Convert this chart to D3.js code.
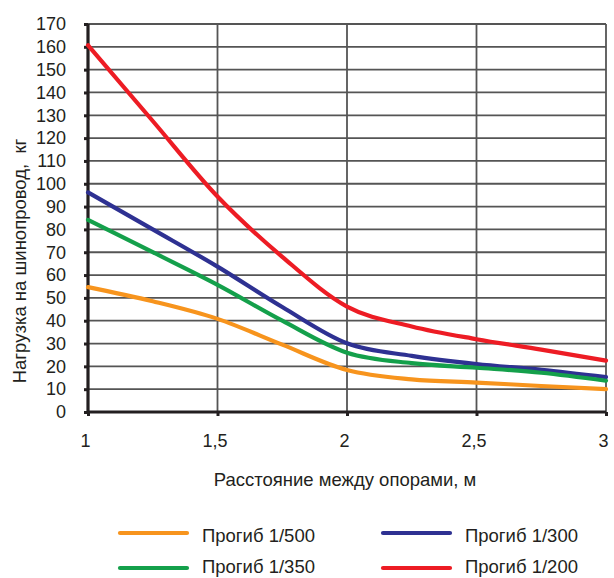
<!DOCTYPE html>
<html><head><meta charset="utf-8">
<script src="https://cdn.jsdelivr.net/npm/d3@7"></script>
<style>
html,body{margin:0;padding:0;background:#fff;}
svg{display:block;font-family:"Liberation Sans",Arial,sans-serif;}
</style></head>
<body><svg id="c" width="614" height="578"></svg>
<script>
const distances = [1, 1.25, 1.5, 1.75, 2, 2.25, 2.5, 2.75, 3];
const defl500 = [54.7, 48.5, 40.8, 29.5, 18.4, 14.3, 12.9, 11.4, 10];
const defl350 = [84.2, 70, 55.7, 40, 26, 21.4, 19.4, 17.2, 13.7];
const defl300 = [96.2, 80, 63.7, 46, 30.1, 24.6, 21, 18.5, 15.3];
const defl200 = [160.7, 127.5, 94.4, 68, 46.2, 37.5, 31.9, 27.3, 22.5];
const seriesNames = ["Прогиб 1/500", "Прогиб 1/300", "Прогиб 1/350", "Прогиб 1/200"];
const seriesColors = ["#f7941d", "#2e3192", "#14a04b", "#ed1c24"];
const xTicks = [1, 1.5, 2, 2.5, 3];
const yTicks = d3.range(0, 171, 10);
const xTitle = "Расстояние между опорами, м";
const yTitle = "Нагрузка на шинопровод,  кг";

const seriesValues = [defl500, defl300, defl350, defl200];
const svg = d3.select("#c");
const x = d3.scaleLinear().domain([1, 3]).range([88, 606]);
const y = d3.scaleLinear().domain([0, 170]).range([412, 24]);
const txt = "#231f20";

// grid
svg.append("g").selectAll("line").data(yTicks.filter(d => d > 0)).join("line")
  .attr("x1", x(1)).attr("x2", x(3)).attr("y1", d => y(d)).attr("y2", d => y(d))
  .attr("stroke", "#555").attr("stroke-width", 1.8);
svg.append("g").selectAll("line").data(xTicks.filter(d => d > 1)).join("line")
  .attr("x1", d => x(d)).attr("x2", d => x(d)).attr("y1", y(0)).attr("y2", y(170))
  .attr("stroke", "#555").attr("stroke-width", 1.8);

// axes
const yAxis = svg.append("g").attr("transform", `translate(${x(1)},0)`)
  .call(d3.axisLeft(y).tickValues(yTicks).tickSize(4).tickPadding(18).tickFormat(d3.format("d")));
const xAxis = svg.append("g").attr("transform", `translate(0,${y(0)})`)
  .call(d3.axisBottom(x).tickValues(xTicks).tickSize(4).tickPadding(18).tickFormat(d => String(d).replace(".", ",")));
[yAxis, xAxis].forEach(a => {
  a.select(".domain").attr("stroke", txt).attr("stroke-width", 3.2);
  a.selectAll(".tick line").attr("stroke", txt).attr("stroke-width", 3);
  a.selectAll("text").attr("fill", txt).style("font-size", "18px").style("font-family", '"Liberation Sans",Arial,sans-serif');
});
yAxis.select(".domain").attr("d", `M0,${y(170)}V${y(0)}`);
xAxis.select(".domain").attr("d", `M${x(1)},0H${x(3)}`);
xAxis.selectAll(".tick text").attr("dx", -3);

// lines
const line = d3.line().x((d, i) => x(distances[i])).y(d => y(d)).curve(d3.curveMonotoneX);
svg.append("g").selectAll("path").data(seriesValues).join("path")
  .attr("d", d => line(d)).attr("fill", "none")
  .attr("stroke", (d, i) => seriesColors[i]).attr("stroke-width", 4.2)
  .attr("stroke-linejoin", "round").attr("stroke-linecap", "round");

// titles
svg.append("text").attr("x", 345).attr("y", 486).attr("text-anchor", "middle")
  .attr("fill", txt).style("font-size", "18.5px").text(xTitle);
svg.append("text").attr("transform", "translate(26,261) rotate(-90)").attr("text-anchor", "middle")
  .attr("fill", txt).style("font-size", "18.5px").style("white-space", "pre").text(yTitle);

// legend
const legPos = [[120, 533], [383, 533], [120, 568], [383, 568]];
const legTextDy = [8.5, 8.5, 5, 5];
const leg = svg.append("g").selectAll("g").data(seriesNames).join("g")
  .attr("transform", (d, i) => `translate(${legPos[i][0]},${legPos[i][1]})`);
leg.append("line").attr("x1", 0).attr("x2", 67).attr("y1", 0).attr("y2", 0)
  .attr("stroke", (d, i) => seriesColors[i]).attr("stroke-width", 4.2).attr("stroke-linecap", "round");
leg.append("text").attr("x", 82).attr("y", (d, i) => legTextDy[i]).attr("fill", txt)
  .style("font-size", "18.5px").text(d => d);
</script></body></html>
